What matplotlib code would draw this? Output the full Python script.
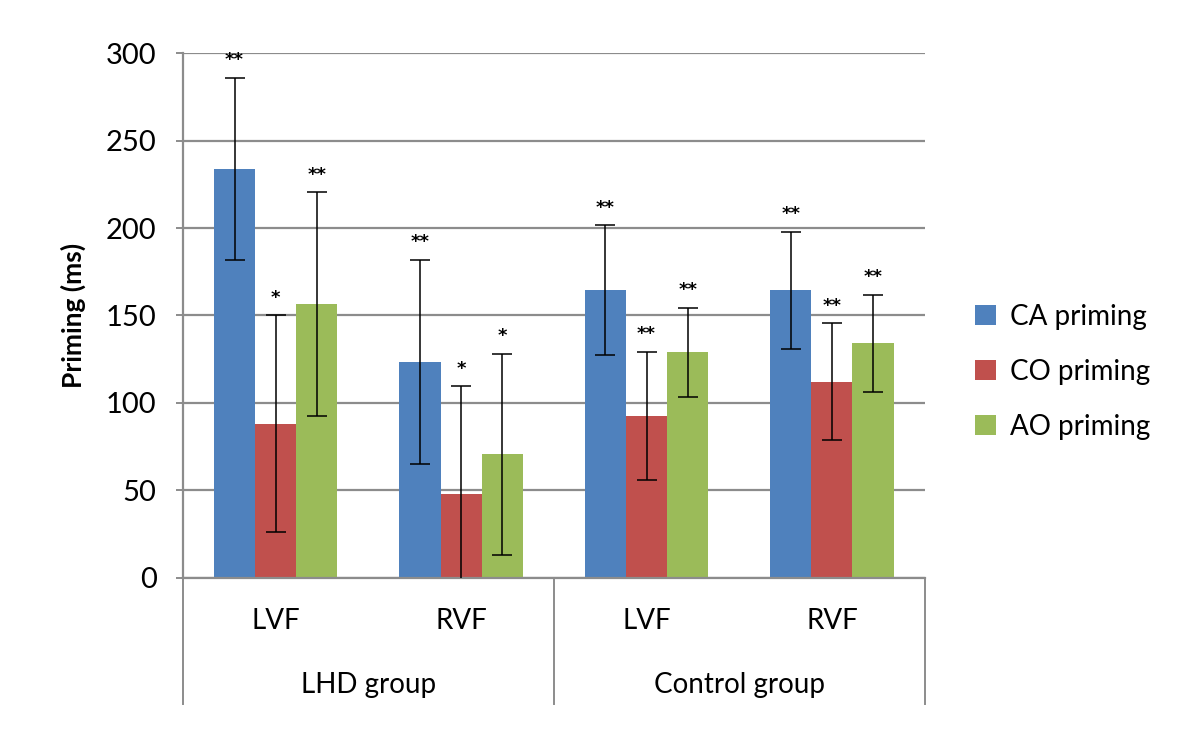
import numpy as np
import matplotlib.pyplot as plt
from matplotlib.patches import Patch

plt.rcParams['font.family'] = ['Lato', 'DejaVu Sans']

# data
conditions = ['LVF', 'RVF', 'LVF', 'RVF']
groups = ['LHD group', 'Control group']
series = ['CA priming', 'CO priming', 'AO priming']
ca_mean = [234, 123.5, 164.5, 164.5]
co_mean = [88, 48, 92.5, 112]
ao_mean = [156.5, 70.5, 129, 134]
ca_err = [52, 58.5, 37, 33.5]
co_err = [62, 61.5, 36.5, 33.5]
ao_err = [64, 57.5, 25.5, 28]
ca_sig = ['**', '**', '**', '**']
co_sig = ['*', '*', '**', '**']
ao_sig = ['**', '*', '**', '**']

colors = ['#4F81BD', '#C0504D', '#9BBB59']
grid_col = '#8C8C8C'

fig = plt.figure(figsize=(12, 7.39), dpi=100)
ax = fig.add_axes([0.1525, 0.2183, 0.618, 0.7096])

x = np.arange(len(conditions))
w = 0.222
means = [ca_mean, co_mean, ao_mean]
errs = [ca_err, co_err, ao_err]
sigs = [ca_sig, co_sig, ao_sig]

for i in range(3):
    pos = x + (i - 1) * w
    ax.bar(pos, means[i], w, color=colors[i], zorder=2, label=series[i])
    ax.errorbar(pos, means[i], yerr=errs[i], fmt='none', ecolor='black',
                elinewidth=1.1, capsize=7, capthick=1.1, zorder=3)
    for p, m, e, s in zip(pos, means[i], errs[i], sigs[i]):
        ax.text(p, m + e + 5, s, ha='center', va='bottom', fontsize=13,
                fontweight='bold', family='DejaVu Sans', zorder=4)

ax.set_xlim(-0.5, 3.5)
ax.set_ylim(0, 300)
ax.set_yticks(range(0, 301, 50))
ax.yaxis.grid(True, color=grid_col, linewidth=1.6, zorder=0)
ax.set_axisbelow(True)
ax.tick_params(axis='y', labelsize=21, length=5, color=grid_col, width=1.4, pad=14)
ax.tick_params(axis='x', length=0, labelbottom=False)
for sp in ['top', 'right']:
    ax.spines[sp].set_visible(False)
for sp in ['left', 'bottom']:
    ax.spines[sp].set_color(grid_col)
    ax.spines[sp].set_linewidth(1.6)

ax.set_ylabel('Priming (ms)', fontsize=19, fontweight='bold', labelpad=14)

# two-level category axis
trans = ax.get_xaxis_transform()
for xv in [-0.5, 1.5, 3.5]:
    ax.plot([xv, xv], [0, -0.24], color=grid_col, linewidth=1.4,
            transform=trans, clip_on=False)
for xi, lab in zip(x, conditions):
    ax.text(xi, -0.083, lab, transform=trans, ha='center', va='center', fontsize=20)
for gi, lab in enumerate(groups):
    ax.text(0.5 + 2 * gi, -0.205, lab, transform=trans, ha='center', va='center',
            fontsize=20)

handles = [Patch(facecolor=c, label=s) for c, s in zip(colors, series)]
fig.legend(handles=handles, loc='center left', bbox_to_anchor=(0.792, 0.497),
           frameon=False, fontsize=20, handlelength=0.75, handleheight=0.75,
           handletextpad=0.5, labelspacing=1.05)

fig.savefig('out.png', dpi=100)
